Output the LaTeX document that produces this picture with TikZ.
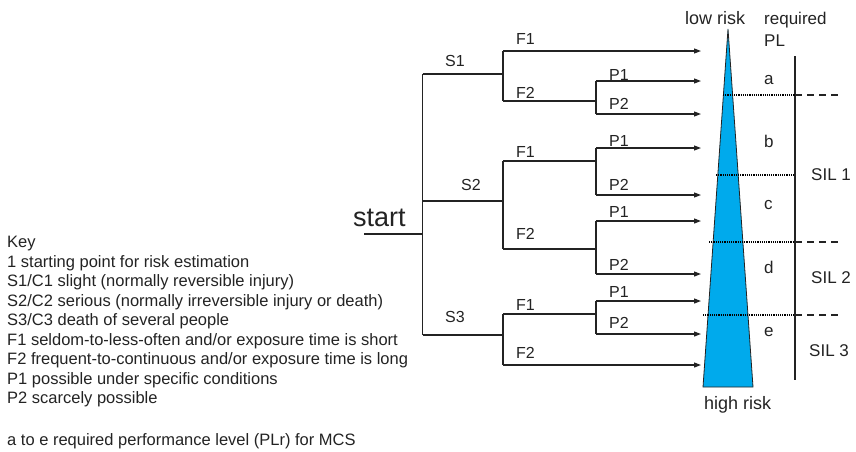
\documentclass[tikz,border=0pt]{standalone}
\usepackage{fontspec}
\setmainfont{Liberation Sans}
\usetikzlibrary{arrows.meta}
\definecolor{riskblue}{RGB}{0,170,236}
\definecolor{ink}{RGB}{35,35,35}
\begin{document}
\begin{tikzpicture}[x=1pt,y=-1pt,
  line/.style={draw=ink, line width=1.1pt},
  arr/.style={line, -{Triangle[length=7pt,width=5pt]}},
  lbl/.style={inner sep=0pt, anchor=base west, text=ink, font=\fontsize{16}{19}\selectfont},
  rlbl/.style={inner sep=0pt, anchor=base west, text=ink, font=\fontsize{17}{20}\selectfont},
  keytxt/.style={inner sep=0pt, anchor=base west, text=ink, font=\fontsize{16.5}{19.6}\selectfont},
  dotline/.style={draw=black, line width=1.3pt, dash pattern=on 1.1pt off 1.1pt},
  dashline/.style={draw=ink, line width=1.1pt, dash pattern=on 7pt off 5pt}]
\useasboundingbox (0,0) rectangle (856,451);

% ---------- tree coordinates ----------
\coordinate (st0) at (364,234);
\coordinate (rs) at (422.5,234);
\coordinate (rt) at (422.5,74);
\coordinate (rb) at (422.5,335);
\coordinate (s1) at (503,74);
\coordinate (s2) at (503,201);
\coordinate (rm) at (422.5,201);
\coordinate (s3) at (503,335);
% S1
\coordinate (s1t) at (503,51);
\coordinate (s1b) at (503,101);
\coordinate (e1) at (701,51);
\coordinate (p1) at (596,101);
\coordinate (p1t) at (596,81);
\coordinate (p1b) at (596,114);
\coordinate (e2) at (701,81);
\coordinate (e3) at (701,114);
% S2
\coordinate (s2t) at (503,161);
\coordinate (s2b) at (503,249);
\coordinate (p2) at (596,161);
\coordinate (p2t) at (596,148);
\coordinate (p2b) at (596,195);
\coordinate (e4) at (701,148);
\coordinate (e5) at (701,195);
\coordinate (p3) at (596,249);
\coordinate (p3t) at (596,221);
\coordinate (p3b) at (596,274);
\coordinate (e6) at (701,221);
\coordinate (e7) at (701,274);
% S3
\coordinate (s3t) at (503,314);
\coordinate (s3b) at (503,365);
\coordinate (p4) at (596,314);
\coordinate (p4t) at (596,301);
\coordinate (p4b) at (596,334);
\coordinate (e8) at (701,301);
\coordinate (e9) at (701,334);
\coordinate (e10) at (701,365);

% ---------- triangle ----------
\coordinate (ta) at (728,29);
\coordinate (tl) at (703,387);
\coordinate (tr) at (753,387);
\filldraw[fill=riskblue, draw=ink, line width=0.8pt] (ta) -- (tl) -- (tr) -- cycle;

% ---------- tree lines ----------
\draw[line] (st0) -- (rs);
\draw[line] (rt) -- (rb);
\draw[line] (rt) -- (s1);
\draw[line] (rm) -- (s2);
\draw[line] (rb) -- (s3);
\draw[line] (s1t) -- (s1b);
\draw[line] (s2t) -- (s2b);
\draw[line] (s3t) -- (s3b);
\draw[line] (s1b) -- (p1);
\draw[line] (s2t) -- (p2);
\draw[line] (s2b) -- (p3);
\draw[line] (s3t) -- (p4);
\draw[line] (p1t) -- (p1b);
\draw[line] (p2t) -- (p2b);
\draw[line] (p3t) -- (p3b);
\draw[line] (p4t) -- (p4b);
\draw[arr] (s1t) -- (e1);
\draw[arr] (p1t) -- (e2);
\draw[arr] (p1b) -- (e3);
\draw[arr] (p2t) -- (e4);
\draw[arr] (p2b) -- (e5);
\draw[arr] (p3t) -- (e6);
\draw[arr] (p3b) -- (e7);
\draw[arr] (p4t) -- (e8);
\draw[arr] (p4b) -- (e9);
\draw[arr] (s3b) -- (e10);

% ---------- PL scale ----------
\coordinate (vt) at (795,56);
\coordinate (vb) at (795,380);
\draw[line] (vt) -- (vb);
\coordinate (d1a) at (723,95);  \coordinate (d1b) at (795,95);  \coordinate (d1c) at (838,95);
\coordinate (d2a) at (716,175); \coordinate (d2b) at (795,175);
\coordinate (d3a) at (709,242); \coordinate (d3b) at (795,242); \coordinate (d3c) at (838,242);
\coordinate (d4a) at (703,315); \coordinate (d4b) at (795,315); \coordinate (d4c) at (840,315);
\draw[dotline] (d1a) -- (d1b);
\draw[dotline] (d2a) -- (d2b);
\draw[dotline] (d3a) -- (d3b);
\draw[dotline] (d4a) -- (d4b);
\draw[dashline] (d1b) -- (d1c);
\draw[dashline] (d3b) -- (d3c);
\draw[dashline] (d4b) -- (d4c);

% ---------- tree labels ----------
\node[inner sep=0pt, anchor=base west, text=ink, font=\fontsize{27}{30}\selectfont] (start) at (353,226) {start};
\node[lbl] (lS1) at (445,66) {S1};
\node[lbl] (lS2) at (461,190) {S2};
\node[lbl] (lS3) at (445,322) {S3};
\node[lbl] (lF11) at (516,44) {F1};
\node[lbl] (lF12) at (516,98) {F2};
\node[lbl] (lF21) at (516,157) {F1};
\node[lbl] (lF22) at (516,239) {F2};
\node[lbl] (lF31) at (516,310) {F1};
\node[lbl] (lF32) at (516,358) {F2};
\node[lbl] (lP11) at (609,80) {P1};
\node[lbl] (lP12) at (609,109) {P2};
\node[lbl] (lP21) at (609,146) {P1};
\node[lbl] (lP22) at (609,190) {P2};
\node[lbl] (lP31) at (609,217) {P1};
\node[lbl] (lP32) at (609,270) {P2};
\node[lbl] (lP41) at (609,297) {P1};
\node[lbl] (lP42) at (609,328) {P2};

% ---------- right labels ----------
\node[rlbl, font=\fontsize{18}{21}\selectfont] (low) at (685,24) {low risk};
\node[rlbl, font=\fontsize{18}{21}\selectfont] (high) at (704,409) {high risk};
\node[rlbl] (req) at (764,24) {required};
\node[rlbl] (pl) at (764,46) {PL};
\node[rlbl] (la) at (764,84) {a};
\node[rlbl] (lb) at (764,147) {b};
\node[rlbl] (lc) at (764,209) {c};
\node[rlbl] (ld) at (764,273) {d};
\node[rlbl] (le) at (764,336) {e};
\node[rlbl] (sil1) at (811,180) {SIL 1};
\node[rlbl] (sil2) at (811,283) {SIL 2};
\node[rlbl] (sil3) at (809,356) {SIL 3};

% ---------- key ----------
\node[keytxt] (k0) at (7,247.5) {Key};
\node[keytxt] (k1) at (7,267) {1 starting point for risk estimation};
\node[keytxt] (k2) at (7,286.5) {S1/C1 slight (normally reversible injury)};
\node[keytxt] (k3) at (7,306) {S2/C2 serious (normally irreversible injury or death)};
\node[keytxt] (k4) at (7,325.5) {S3/C3 death of several people};
\node[keytxt] (k5) at (7,345) {F1 seldom-to-less-often and/or exposure time is short};
\node[keytxt] (k6) at (7,364.5) {F2 frequent-to-continuous and/or exposure time is long};
\node[keytxt] (k7) at (7,384) {P1 possible under specific conditions};
\node[keytxt] (k8) at (7,403.5) {P2 scarcely possible};
\node[keytxt] (k9) at (7,445) {a to e required performance level (PLr) for MCS};
\end{tikzpicture}
\end{document}
